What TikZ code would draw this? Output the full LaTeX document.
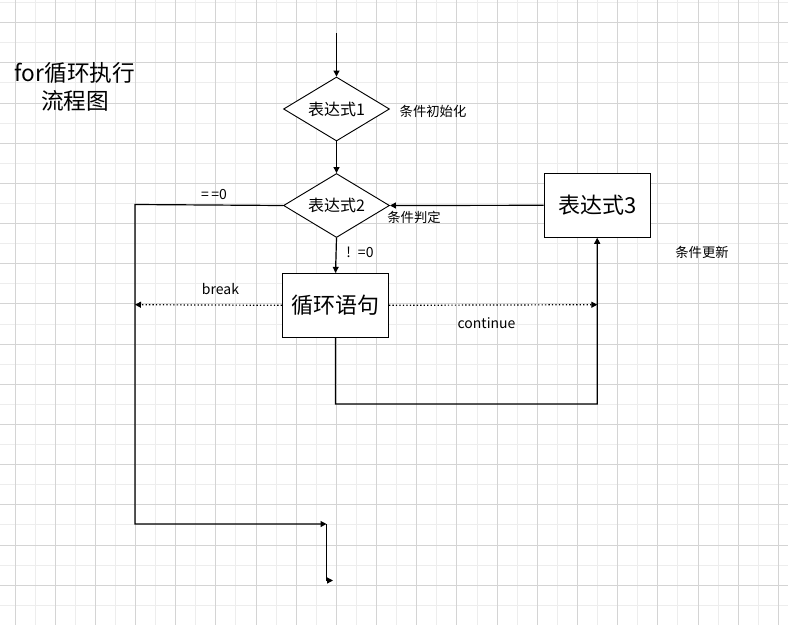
\documentclass[tikz,border=0pt]{standalone}
\usepackage{fontspec}
\setmainfont{Noto Sans CJK SC}
\usetikzlibrary{arrows.meta,shapes.geometric}
\definecolor{gmajor}{HTML}{D4D4D4}
\definecolor{gminor}{HTML}{EDEDED}
\begin{document}
\begin{tikzpicture}[x=0.75pt,y=-0.75pt,
  minorline/.style={gminor,line width=0.75pt},
  majorline/.style={gmajor,line width=0.75pt},
  wire/.style={line width=0.9pt,black},
  conn/.style={wire,-{Triangle[length=4.5pt,width=4.5pt]}},
  dconn/.style={conn,dash pattern=on 1pt off 1.6pt},
  dia/.style={shape=diamond,draw,fill=white,line width=0.7pt,inner sep=0pt,
    minimum width=79.5pt,minimum height=48pt,aspect=1.66,font=\fontsize{12}{14}\selectfont},
  box/.style={draw,fill=white,line width=0.7pt,inner sep=0pt,
    minimum width=79.5pt,minimum height=48pt,font=\fontsize{16.5}{19}\selectfont},
  small/.style={inner sep=0pt,font=\fontsize{10}{12}\selectfont},
  lat/.style={inner sep=0pt,font=\fontsize{10.5}{12}\selectfont}]
\useasboundingbox (0,0) rectangle (788,625);
\fill[white] (0,0) rectangle (788,625);
% grid
\foreach \k in {0,...,18} \draw[minorline] ({35.09+40.18*\k},0) -- ({35.09+40.18*\k},625);
\foreach \k in {0,...,15} \draw[minorline] (0,{2.6+40.18*\k}) -- (788,{2.6+40.18*\k});
\foreach \k in {0,...,19} \draw[majorline] ({15+40.18*\k},0) -- ({15+40.18*\k},625);
\foreach \k in {0,...,14} \draw[majorline] (0,{22.7+40.18*\k}) -- (788,{22.7+40.18*\k});

% title
\node[inner sep=0pt,align=center,font=\fontsize{17}{21}\selectfont] (title) at (75,87) {for循环执行\\流程图};

% nodes
\node[dia] (d1) at (336.5,109) {表达式1};
\node[dia] (d2) at (336.5,205.5) {表达式2};
\node[box] (loop) at (335.5,305.3) {循环语句};
\node[box] (e3) at (597.2,205.3) {表达式3};

% labels
\node[small] (l1) at (433,111.5) {条件初始化};
\node[lat] (l2) at (214,194.5) {=\,=0};
\node[small] (l3) at (414,217) {条件判定};
\node[lat] (l4) at (360,252.5) {!\enspace=0};
\node[lat] (l5) at (220.5,289) {break};
\node[lat] (l6) at (486.5,322.7) {continue};
\node[small] (l7) at (702,252.3) {条件更新};

% coordinates
\coordinate (start) at (336.5,33);
\coordinate (lt) at (135,204.5);
\coordinate (lb) at (135,524);
\coordinate (bt) at (326.5,524);
\coordinate (bb) at (326.5,580.5);
\coordinate (be) at (333,580.5);
\coordinate (lm) at (135,304.7);
\coordinate (rm) at (597.3,304.7);
\coordinate (c1) at (335.5,404);
\coordinate (c2) at (597.3,404);

% connectors
\draw[conn] (start) -- (d1.north);
\draw[conn] (d1.south) -- (d2.north);
\draw[conn] (d2.south) -- (loop.north);
\draw[conn] (e3.west) -- (d2.east);
\draw[conn] (d2.west) -- (lt) -- (lb) -- (bt);
\draw[conn] (bt) -- (bb) -- (be);
\draw[dconn] (loop.west) -- (lm);
\draw[dconn] (loop.east) -- (rm);
\draw[conn] (loop.south) -- (c1) -- (c2) -- (e3.south);
\end{tikzpicture}
\end{document}
